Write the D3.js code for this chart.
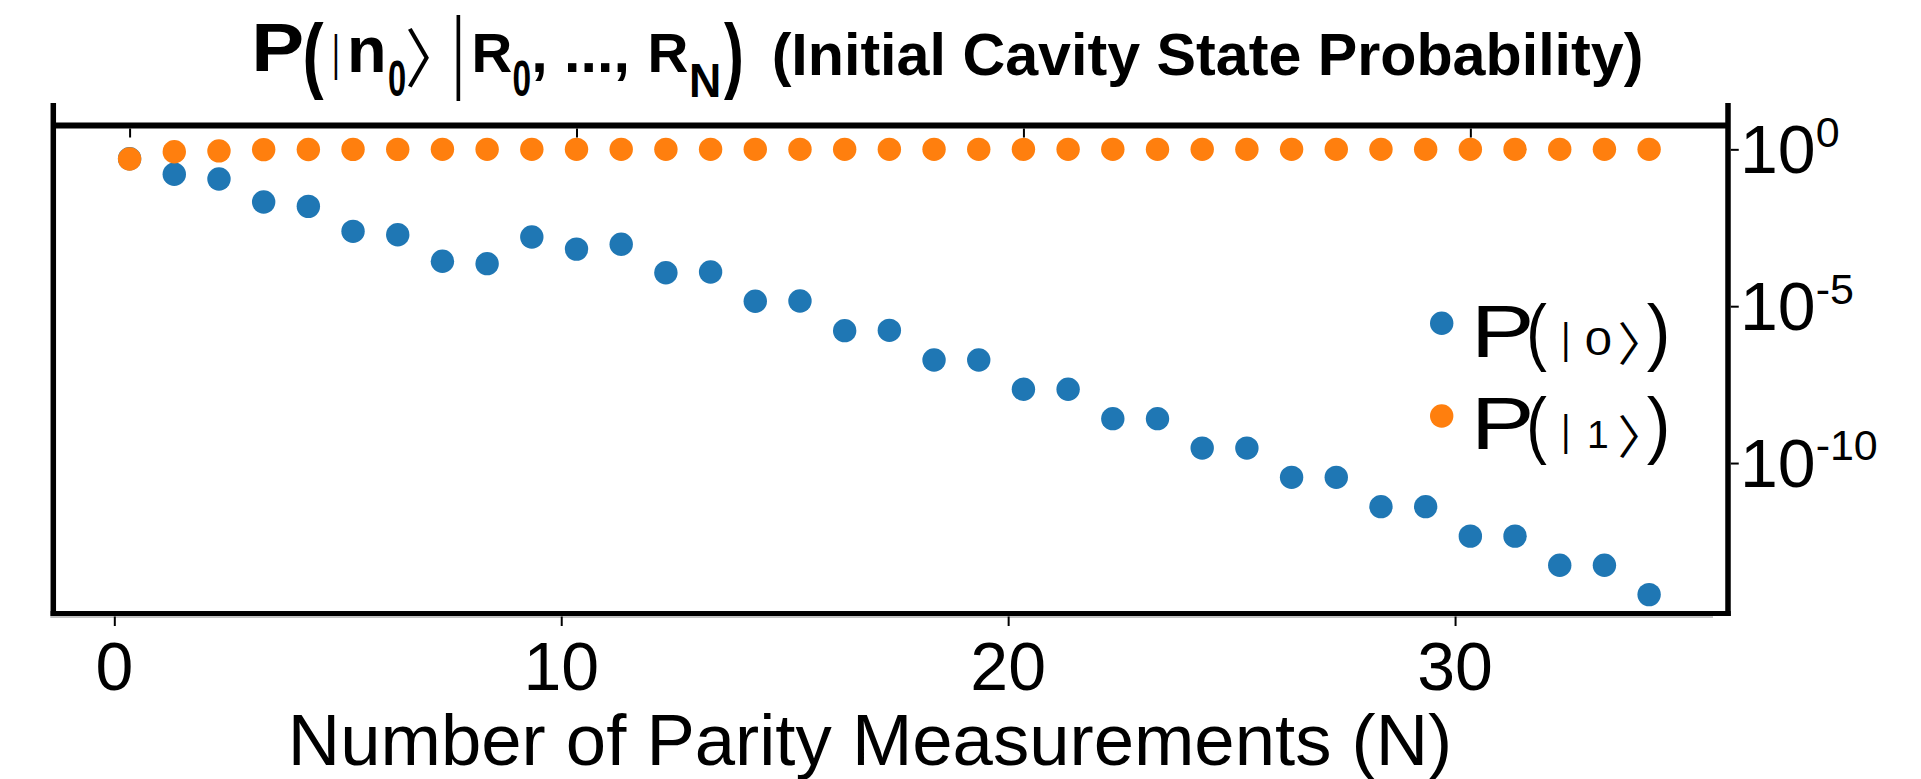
<!DOCTYPE html>
<html><head><meta charset="utf-8">
<script src="https://cdn.jsdelivr.net/npm/d3@7"></script>
<style>
body{margin:0;background:#fff;}
svg{display:block;}
text{font-family:"Liberation Sans",Arial,Helvetica,sans-serif;fill:#000;}
</style>
</head><body>
<svg id="c" width="1921" height="779"></svg>
<script>
// ---------------- data ----------------
const measurementN = [0,1,2,3,4,5,6,7,8,9,10,11,12,13,14,15,16,17,18,19,20,21,22,23,24,25,26,27,28,29,30,31,32,33,34];
const probState0 = [0.50,0.16,0.113,0.021,0.0152,0.00243,0.0019,2.7e-4,2.27e-4,1.6e-3,6.6e-4,9.4e-4,1.17e-4,1.23e-4,
  1.43e-5,1.46e-5,1.66e-6,1.70e-6,1.92e-7,1.92e-7,2.24e-8,2.24e-8,2.6e-9,2.6e-9,3.0e-10,3.0e-10,
  3.5e-11,3.5e-11,4.07e-12,4.07e-12,4.68e-13,4.68e-13,5.5e-14,5.5e-14,6.4e-15];
const probState1 = [0.49,0.84,0.89,0.98,0.985,0.998,0.998,1,1,1,1,1,1,1,1,1,1,1,1,1,1,1,1,1,1,1,1,1,1,1,1,1,1,1,1];
const xTickValues = [0,10,20,30];
const xTickLabels = ["0","10","20","30"];
const yTickValues = [1,1e-5,1e-10];
const yTickExponents = ["0","-5","-10"];
const seriesNames = ["0","1"];
const seriesColors = ["#1f77b4","#ff7f0e"];
const xLabel = "Number of Parity Measurements (N)";
const titleTail = "(Initial Cavity State Probability)";

// ---------------- layout ----------------
const svg = d3.select("#c");
const plot = {left:53.3, right:1728, top:103, bottom:613.5};
const topSpineY = 125.5;
const R = 11.7;

const xTop = d3.scaleLinear().domain([-1.707,35.765]).range([plot.left,plot.right]);
const xBottom = d3.scaleLinear().domain([-1.365,36.107]).range([plot.left,plot.right]);
const y = d3.scaleLog().domain([Math.pow(10,-14.796),Math.pow(10,1.477)]).range([plot.bottom,plot.top]);

// thin secondary baseline
svg.append("line").attr("x1",plot.left-3).attr("x2",1713).attr("y1",617).attr("y2",617)
  .attr("stroke","#888").attr("stroke-width",1);

// points
const series = [probState0, probState1];
series.forEach((vals,si)=>{
  svg.append("g").selectAll("circle").data(measurementN).join("circle")
    .attr("cx",d=>xTop(d)).attr("cy",(d,i)=>y(vals[i])).attr("r",R)
    .attr("fill",seriesColors[si]);
});

// spines
const sp = svg.append("g").attr("stroke","#000").attr("fill","none");
sp.append("line").attr("x1",plot.left).attr("x2",plot.left).attr("y1",plot.top).attr("y2",plot.bottom+2.5).attr("stroke-width",5.5);
sp.append("line").attr("x1",plot.right).attr("x2",plot.right).attr("y1",plot.top).attr("y2",plot.bottom+2.5).attr("stroke-width",5.5);
sp.append("line").attr("x1",plot.left).attr("x2",plot.right).attr("y1",topSpineY).attr("y2",topSpineY).attr("stroke-width",6);
sp.append("line").attr("x1",plot.left-2.7).attr("x2",plot.right+2.7).attr("y1",plot.bottom).attr("y2",plot.bottom).attr("stroke-width",5);

// top ticks (data axis)
const topAx = svg.append("g").attr("transform",`translate(0,${topSpineY+3})`)
  .call(d3.axisBottom(xTop).tickValues(xTickValues).tickSize(9).tickFormat(""));
topAx.select(".domain").remove();
topAx.selectAll("line").attr("stroke-width",2);

// bottom axis
const botAx = svg.append("g").attr("transform",`translate(0,${plot.bottom+3})`)
  .call(d3.axisBottom(xBottom).tickValues(xTickValues).tickSize(9.5).tickFormat(""));
botAx.select(".domain").remove();
botAx.selectAll("line").attr("stroke-width",2);
svg.append("g").selectAll("text").data(xTickValues).join("text")
  .attr("x",d=>xBottom(d)).attr("y",690).attr("text-anchor","middle")
  .attr("font-size",68).text((d,i)=>xTickLabels[i]);

// right axis
const rAx = svg.append("g").attr("transform",`translate(${plot.right+2.75},0)`)
  .call(d3.axisRight(y).tickValues(yTickValues).tickSize(8).tickFormat(""));
rAx.select(".domain").remove();
rAx.selectAll("line").attr("stroke-width",2);
const yl = svg.append("g").selectAll("text").data(yTickValues).join("text")
  .attr("x",1740).attr("y",d=>y(d)+24).attr("font-size",68);
yl.append("tspan").text("10");
yl.append("tspan").attr("font-size",43).attr("dy",-26.6).text((d,i)=>yTickExponents[i]);

// x label
svg.append("text").attr("x",870).attr("y",765).attr("text-anchor","middle")
  .attr("font-size",72.5).text(xLabel);

// ---------- glyph fitting helpers (math-style text pieces) ----------
const ctx = document.createElement("canvas").getContext("2d");
const LIB = '"Liberation Sans"', CJK = '"Noto Sans CJK JP"';
function ink(t, weight, fam){
  ctx.font = `${weight||"normal"} 100px ${fam}`;
  const m = ctx.measureText(t);
  return {l:m.actualBoundingBoxLeft, r:m.actualBoundingBoxRight, a:m.actualBoundingBoxAscent, d:m.actualBoundingBoxDescent};
}
// fit text ink into box {x0,y0,x1,y1}; stretch => also match width; sx => fixed horizontal scale; cx => centre
function fit(g, t, b, o={}){
  const fam = o.family || LIB;
  const m = ink(t, o.weight, fam);
  const k = (b.y1-b.y0)/(m.a+m.d);
  const inkW = (m.l+m.r)*k;
  const sx = o.sx || (o.stretch ? (b.x1-b.x0)/inkW : 1);
  const left = o.cx!==undefined ? o.cx - inkW*sx/2 : b.x0;
  const e = g.append("text").attr("font-size",k*100).style("font-family",fam).text(t);
  if(o.weight) e.attr("font-weight",o.weight);
  e.attr("transform",`translate(${left + m.l*k*sx},${b.y0 + m.a*k}) scale(${sx},1)`);
  return e;
}
function place(g, t, x0, base, fs, o={}){
  const fam = o.family || LIB;
  const m = ink(t, o.weight, fam);
  const e = g.append("text").attr("font-size",fs).style("font-family",fam).text(t)
    .attr("x", x0 + m.l*fs/100).attr("y",base);
  if(o.weight) e.attr("font-weight",o.weight);
  return e;
}
function placeW(g, t, x0, x1, base, o={}){
  const fam = o.family || LIB;
  const m = ink(t, o.weight, fam);
  const fs = (x1-x0)/(m.l+m.r)*100;
  return place(g, t, x0, base, fs, o);
}

// ---------- title ----------
const tg = svg.append("g");
fit(tg,"P",{x0:256,y0:23.3,x1:302,y1:71.7},{weight:"bold",stretch:true});
fit(tg,"(",{x0:305,y0:21.7,x1:324,y1:100},{weight:"bold",stretch:true});
fit(tg,"|",{x0:334.3,y0:33,x1:337.3,y1:80},{stretch:true});
fit(tg,"n",{x0:351,y0:36.7,x1:383.5,y1:71.7},{weight:"bold"});
fit(tg,"0",{x0:389,y0:61.7,x1:405,y1:96.7},{weight:"bold",stretch:true});
fit(tg,"\u3009",{x0:408,y0:28,x1:429.5,y1:88},{family:CJK,stretch:true});
fit(tg,"|",{x0:456,y0:15,x1:460.5,y1:101.7},{stretch:true});
fit(tg,"R",{x0:475,y0:33.3,x1:511.7,y1:71.7},{weight:"bold",stretch:true});
fit(tg,"0",{x0:513.6,y0:61.7,x1:530,y1:96.7},{weight:"bold",stretch:true});
placeW(tg,", ...,",534.7,626.5,72,{weight:"bold"});
fit(tg,"R",{x0:651,y0:33.3,x1:687.8,y1:71.7},{weight:"bold",stretch:true});
fit(tg,"N",{x0:691.6,y0:63,x1:718.4,y1:96.7},{weight:"bold",stretch:true});
fit(tg,")",{x0:724,y0:21.7,x1:741.3,y1:100},{weight:"bold",stretch:true});
placeW(tg,titleTail,774,1641,75,{weight:"bold"});

// ---------- legend ----------
const m0 = ink("0", null, LIB);
const zeroSx = 24 / ((m0.l+m0.r) * 27/(m0.a+m0.d));
seriesNames.forEach((nm,i)=>{
  const dy = i*92.7;
  const g = svg.append("g");
  g.append("circle").attr("cx",1441.7).attr("cy",323.3+dy).attr("r",R).attr("fill",seriesColors[i]);
  fit(g,"P",{x0:1478.3,y0:305+dy,x1:1530,y1:356.7+dy},{stretch:true});
  fit(g,"(",{x0:1530,y0:303+dy,x1:1546.7,y1:373+dy},{stretch:true});
  fit(g,"|",{x0:1564,y0:321.7+dy,x1:1567.5,y1:361.7+dy},{stretch:true});
  fit(g,nm,{x0:1585,y0:328+dy,x1:1611.7,y1:355+dy},{cx:1598.3,sx:(nm==="0"?zeroSx:1)});
  fit(g,"\u3009",{x0:1620,y0:321.7+dy,x1:1638.3,y1:365+dy},{family:CJK,stretch:true});
  fit(g,")",{x0:1646.7,y0:303+dy,x1:1666.7,y1:373+dy},{stretch:true});
});
</script>
</body></html>
